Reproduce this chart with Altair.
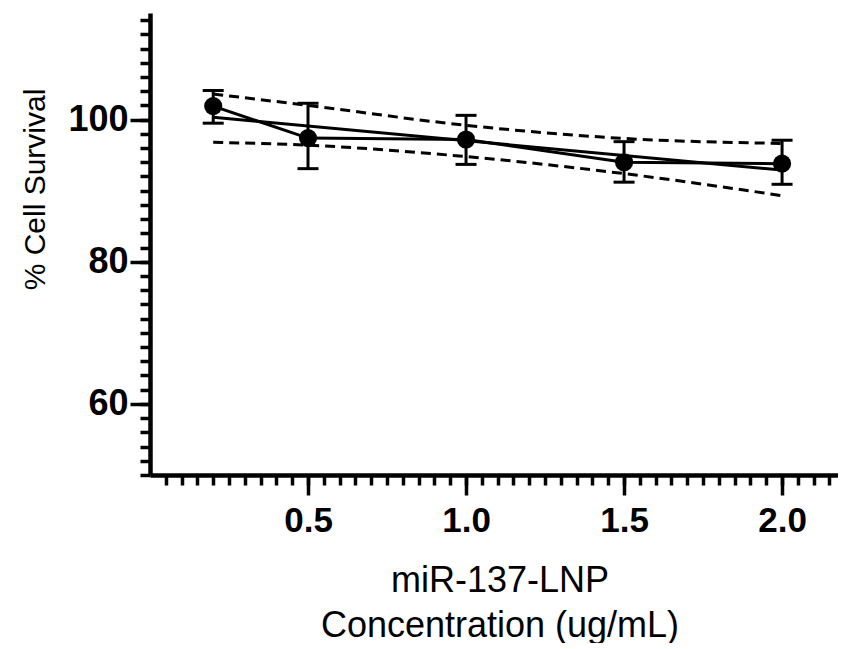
import altair as alt
import pandas as pd

# ---- data ----
conc = [0.2, 0.5, 1.0, 1.5, 2.0]
survival = [101.9, 97.4, 97.2, 94.0, 93.8]
err_upper = [104.1, 102.3, 100.6, 96.9, 97.1]
err_lower = [99.5, 93.1, 93.7, 91.2, 90.9]

ci_conc = [0.2, 0.5, 1.0, 1.5, 2.0]
ci_upper = [103.6, 102.0, 99.2, 97.35, 96.65]
ci_lower = [96.8, 96.4, 94.8, 92.4, 89.3]

y_major = [60, 80, 100]
y_minor = list(range(50, 116, 2))
x_major = [0.5, 1.0, 1.5, 2.0]
x_minor = [round(0.05 * i, 2) for i in range(1, 44)]

x_title = ["miR-137-LNP", "Concentration (ug/mL)"]
y_title = "% Cell Survival"

FONT = "Liberation Sans"

df = pd.DataFrame({"conc": conc, "survival": survival, "lo": err_lower, "hi": err_upper})
ci_df = pd.DataFrame({"conc": ci_conc, "upper": ci_upper, "lower": ci_lower})

xs = alt.Scale(domain=[0, 2.177], nice=False, zero=False)
ys = alt.Scale(domain=[50, 115], nice=False, zero=False)

x_major_axis = alt.Axis(
    values=x_major, orient="bottom", format=".1f", grid=False,
    tickSize=20, tickWidth=3.5, tickColor="black",
    domain=True, domainWidth=4.5, domainColor="black",
    labelFont=FONT, labelFontSize=35, labelFontWeight="bold", labelColor="black",
    labelPadding=8,
    title=x_title, titleFont=FONT, titleFontSize=36, titleFontWeight="normal",
    titleColor="black", titleLineHeight=45, titleX=349.5, titleY=105,
    titleAlign="center", titleBaseline="middle",
)
y_major_axis = alt.Axis(
    values=y_major, orient="left", grid=False,
    tickSize=20, tickWidth=3.5, tickColor="black",
    domain=True, domainWidth=4.5, domainColor="black",
    labelFont=FONT, labelFontSize=36, labelFontWeight="bold", labelColor="black",
    labelPadding=2,
    title=y_title, titleFont=FONT, titleFontSize=30, titleFontWeight="normal",
    titleColor="black", titleX=-115, titleY=176, titleAngle=270,
    titleAlign="center", titleBaseline="middle",
)
x_minor_axis = alt.Axis(
    values=x_minor, orient="bottom", grid=False, labels=False, domain=False,
    tickSize=10, tickWidth=3.5, tickColor="black", title=None,
)
y_minor_axis = alt.Axis(
    values=y_minor, orient="left", grid=False, labels=False, domain=False,
    tickSize=10, tickWidth=3.5, tickColor="black", title=None,
)

base = alt.Chart(df)

axes_major = base.mark_circle(opacity=0).encode(
    x=alt.X("conc:Q", scale=xs, axis=x_major_axis),
    y=alt.Y("survival:Q", scale=ys, axis=y_major_axis),
)
axes_minor = base.mark_circle(opacity=0).encode(
    x=alt.X("conc:Q", scale=xs, axis=x_minor_axis),
    y=alt.Y("survival:Q", scale=ys, axis=y_minor_axis),
)

ci_up = alt.Chart(ci_df).mark_line(color="black", strokeWidth=3, strokeDash=[10, 6], interpolate="monotone", opacity=1).encode(
    x=alt.X("conc:Q", scale=xs, axis=None),
    y=alt.Y("upper:Q", scale=ys, axis=None),
)
ci_lo = alt.Chart(ci_df).mark_line(color="black", strokeWidth=3, strokeDash=[10, 6], interpolate="monotone", opacity=1).encode(
    x=alt.X("conc:Q", scale=xs, axis=None),
    y=alt.Y("lower:Q", scale=ys, axis=None),
)
reg = base.transform_regression("conc", "survival", extent=[0.2, 2.0]).mark_line(
    color="black", strokeWidth=3, opacity=1
).encode(
    x=alt.X("conc:Q", scale=xs, axis=None),
    y=alt.Y("survival:Q", scale=ys, axis=None),
)
conn = base.mark_line(color="black", strokeWidth=3, opacity=1).encode(
    x=alt.X("conc:Q", scale=xs, axis=None),
    y=alt.Y("survival:Q", scale=ys, axis=None),
)
err = base.mark_rule(color="black", strokeWidth=3, opacity=1).encode(
    x=alt.X("conc:Q", scale=xs, axis=None),
    y=alt.Y("lo:Q", scale=ys, axis=None),
    y2="hi:Q",
)
cap_hi = base.mark_tick(color="black", orient="horizontal", size=21, thickness=3, opacity=1).encode(
    x=alt.X("conc:Q", scale=xs, axis=None),
    y=alt.Y("hi:Q", scale=ys, axis=None),
)
cap_lo = base.mark_tick(color="black", orient="horizontal", size=21, thickness=3, opacity=1).encode(
    x=alt.X("conc:Q", scale=xs, axis=None),
    y=alt.Y("lo:Q", scale=ys, axis=None),
)
pts = base.mark_circle(color="black", size=330, opacity=1).encode(
    x=alt.X("conc:Q", scale=xs, axis=None),
    y=alt.Y("survival:Q", scale=ys, axis=None),
)

chart = alt.layer(
    axes_minor, axes_major, ci_up, ci_lo, reg, conn, err, cap_hi, cap_lo, pts
).resolve_axis(
    x="independent", y="independent"
).properties(
    width=688, height=462,
    padding={"left": 142, "top": 5, "right": 0, "bottom": 168},
    autosize=alt.AutoSizeParams(type="none"),
    background="white",
).configure_view(strokeWidth=0)

chart.save("out.html", embed_options={"renderer": "svg", "actions": False})
